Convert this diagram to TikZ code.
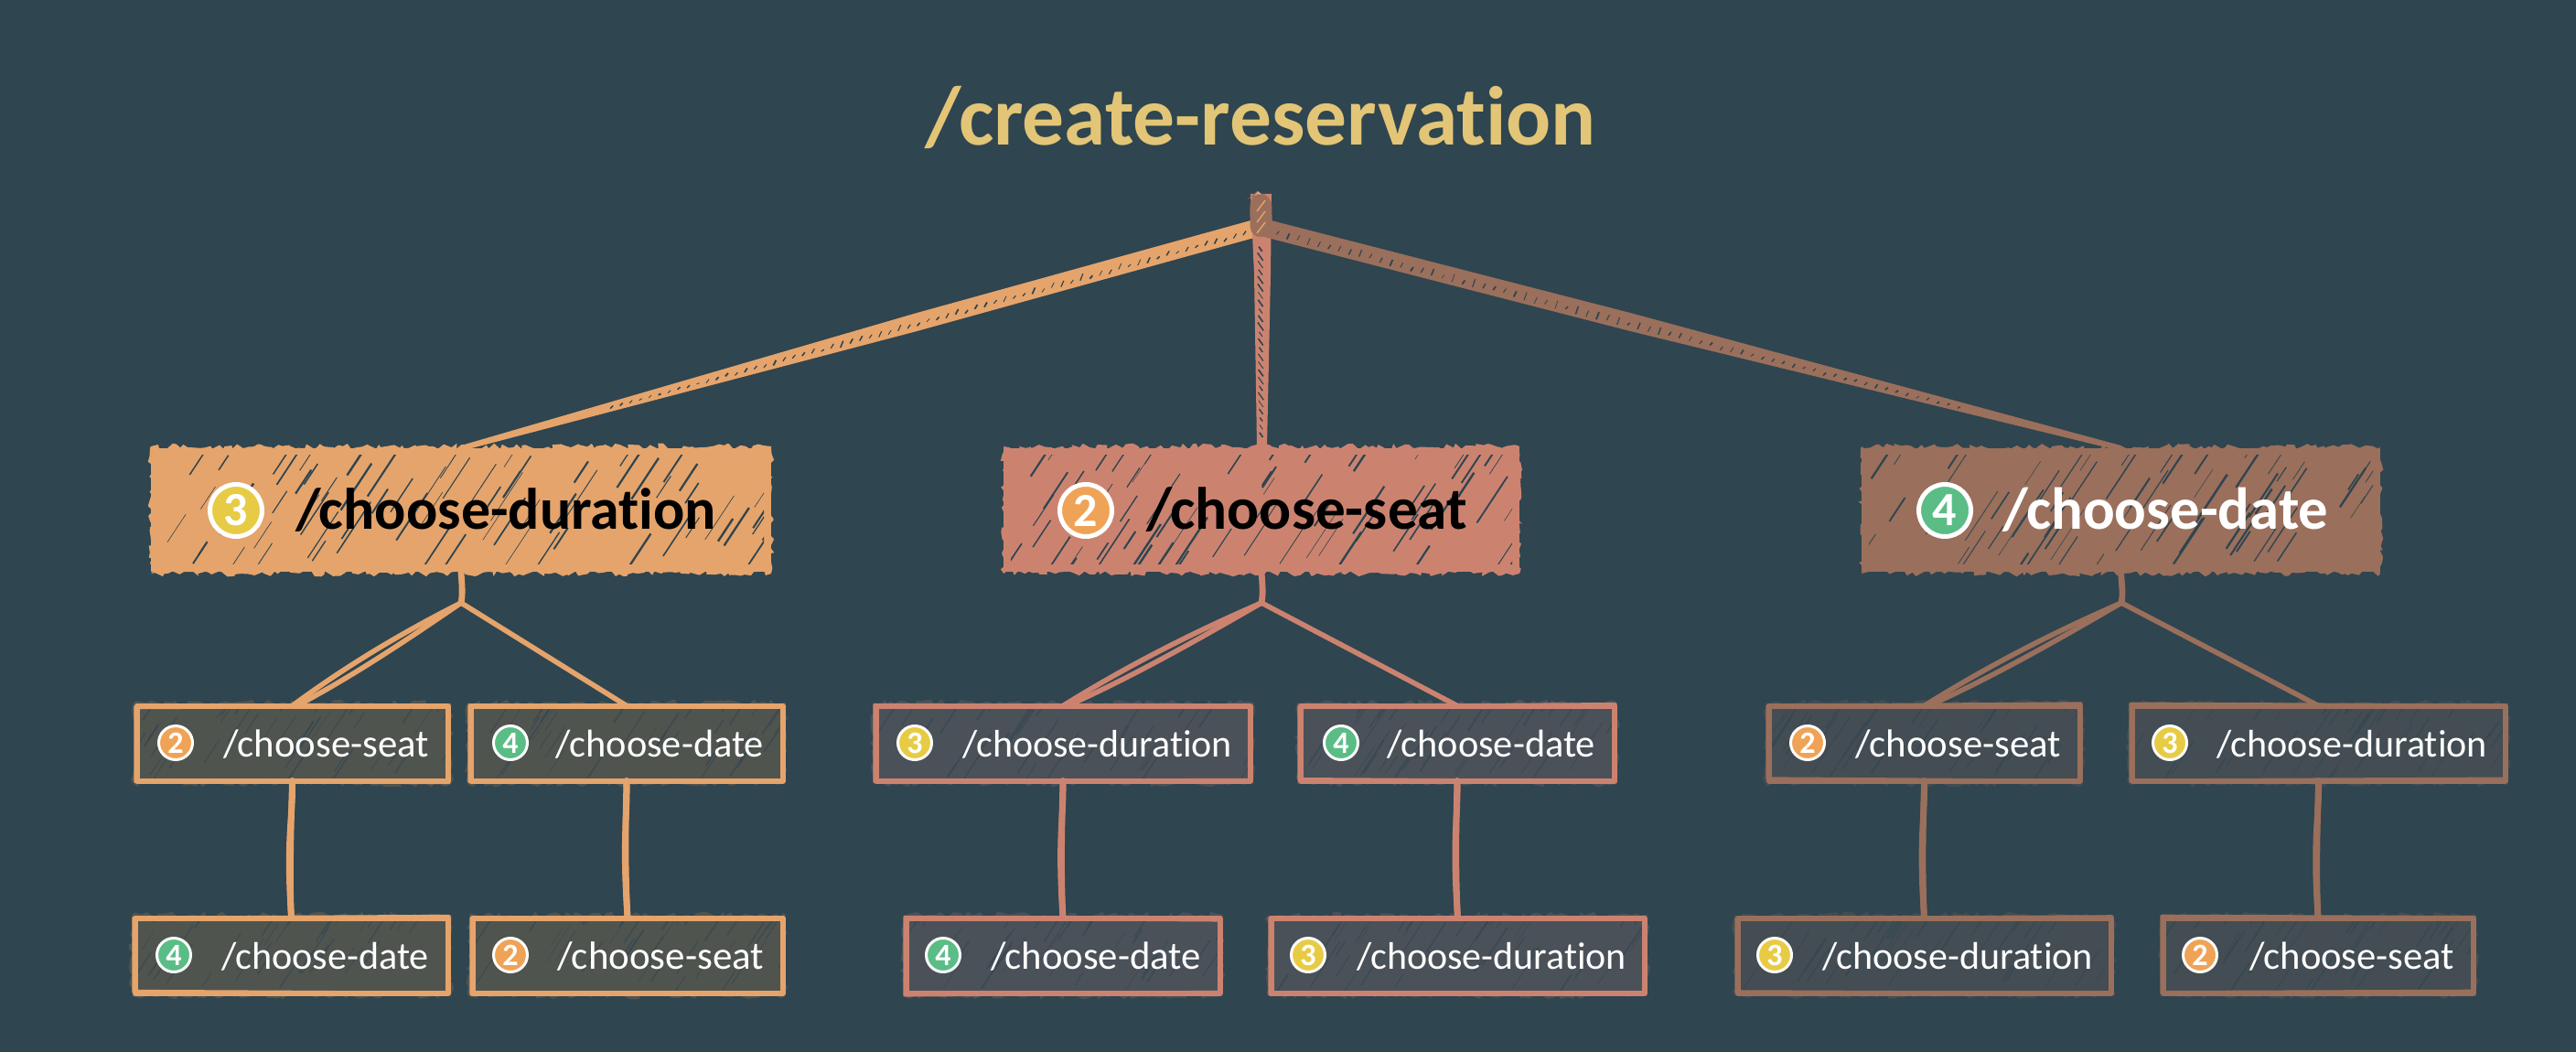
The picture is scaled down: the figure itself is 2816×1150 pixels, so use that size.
\documentclass[tikz,border=0pt]{standalone}
\usepackage{fontspec}
\setmainfont[Ligatures=NoCommon]{Carlito}
\usetikzlibrary{calc,decorations.pathmorphing}
\definecolor{bgc}{HTML}{2F4550}
\definecolor{titlec}{HTML}{E2C576}
\definecolor{oc}{HTML}{E5A46B}
\definecolor{sc}{HTML}{CB8370}
\definecolor{bc}{HTML}{9A6F5B}
\definecolor{of}{HTML}{50544F}
\definecolor{sf}{HTML}{4B5158}
\definecolor{bf}{HTML}{434D53}
\definecolor{b2}{HTML}{EFA356}
\definecolor{b3}{HTML}{E8CB45}
\definecolor{b4}{HTML}{5ABD85}
\tikzset{
  cardnode/.style={rectangle,inner sep=0pt,outer sep=0pt},
  badgebig/.style={circle,draw=white,line width=2.5pt,minimum size=28.5pt,inner sep=0pt,text=white,font=\bfseries\fontsize{26}{26}\selectfont},
  badgesmall/.style={circle,draw=white,line width=1.5pt,minimum size=18.5pt,inner sep=0pt,text=white,font=\bfseries\fontsize{17}{17}\selectfont},
  labeltext/.style={anchor=base west,inner sep=0pt,outer sep=0pt},
  jag/.style={decorate,decoration={random steps,segment length=#1,amplitude=1.7pt}},
  conn/.style={line width=3.4pt,line cap=round},
  thinconn/.style={line width=2.8pt,line cap=round}
}
% name, x1, x2, badge x, text x, text width, number, label
\newcommand{\bigcard}[8]{%
  \pgfmathsetmacro{\cardw}{(#3-#2)*0.5}\pgfmathsetmacro{\cardh}{(\ryb-\rya)*0.5}
  \fill[\ccol,jag=2.4pt] (#2,\rya+1) -- (#3,\rya+1) -- (#3,\ryb-1) -- (#2,\ryb-1) -- cycle;
  \node[cardnode,fill=\ccol,minimum width=\cardw pt,minimum height={\cardh pt-3pt}] (#1) at ({(#2+#3)/2},{(\rya+\ryb)/2}) {};
  \begin{scope}
    \clip (#2+8,\rya+10) rectangle (#3-8,\ryb-12);
    \foreach \i in {1,...,72}{
      \pgfmathsetmacro{\hx}{#2+rnd*(#3-#2)}
      \pgfmathsetmacro{\hy}{\rya+rnd*(\ryb-\rya)}
      \pgfmathsetmacro{\hl}{14+rnd*42}
      \pgfmathsetmacro{\hw}{0.25+rnd*1.0}
      \draw[bgc,line width=\hw pt] (\hx,\hy) -- ++(\hl*0.66,-\hl);
    }
  \end{scope}
  \node[badgebig,fill=b#7] (#1-badge) at (#4,\ryc) {#7};
  \node[labeltext,text=\tcol] (#1-label) at (#5,\ryd) {\resizebox{\dimexpr#6pt/2\relax}{!}{\bfseries #8}};
}
\newcommand{\smallcard}[8]{%
  \pgfmathsetmacro{\cardw}{(#3-#2)*0.5-2.5}\pgfmathsetmacro{\cardh}{(\ryb-\rya)*0.5-2.5}
  \fill[\fcol,jag=2.6pt] (#2-1,\rya-1) -- (#3+1,\rya-1) -- (#3+1,\ryb+1) -- (#2-1,\ryb+1) -- cycle;
  \fill[\fcol] (#2,\rya) rectangle (#3,\ryb);
  \begin{scope}
    \clip (#2,\rya) rectangle (#3,\ryb);
    \foreach \i in {1,...,42}{
      \pgfmathsetmacro{\hx}{#2+rnd*(#3-#2)}
      \pgfmathsetmacro{\hy}{\rya+rnd*(\ryb-\rya)}
      \pgfmathsetmacro{\hl}{14+rnd*30}
      \pgfmathsetmacro{\hw}{0.25+rnd*0.7}
      \draw[bgc,opacity=.6,line width=\hw pt] (\hx,\hy) -- ++(\hl*0.66,-\hl);
    }
  \end{scope}
  \node[cardnode,draw=\ccol,line width=3pt,line join=round,minimum width=\cardw pt,minimum height=\cardh pt] (#1) at ({(#2+#3)/2},{(\rya+\ryb)/2}) {};
  \pgfmathsetmacro{\oa}{rnd*4-2}\pgfmathsetmacro{\ob}{rnd*4-2}
  \draw[\ccol,line width=2.2pt,line join=round] ($(#1.north west)+(-1,\oa)$) -- ($(#1.north east)+(1,\ob)$) -- ($(#1.south east)+(1,\oa)$) -- ($(#1.south west)+(-1,\ob)$) -- cycle;
  \node[badgesmall,fill=b#7] (#1-badge) at (#4,\ryc) {#7};
  \node[labeltext,text=white] (#1-label) at (#5,\ryd) {\resizebox{\dimexpr#6pt/2\relax}{!}{#8}};
}
% wide sketched band from apex to a card: target, colour
\newcommand{\band}[2]{%
  \fill[#2] ($(apex)+(0,-10)$) -- ($(apex)!.43!(#1.north)+(0,-10)$) -- ($(#1.north)+(0,-3)$) -- ($(#1.north)+(0,3)$) -- ($(apex)!.43!(#1.north)+(0,10)$) -- ($(apex)+(0,10)$) -- cycle;
  \draw[#2,line width=1pt] (apex) -- (#1.north);
  \foreach \t in {0.02,0.032,...,0.82}{
    \pgfmathsetmacro{\ff}{\t<0.43?1:(1-\t)/0.57}
    \pgfmathsetmacro{\ua}{\ff*(3+rnd*3.5)}
    \pgfmathsetmacro{\ub}{\ff*(rnd*5-3)}
    \pgfmathsetmacro{\uw}{0.35+rnd*0.6}
    \draw[bgc,line width=\uw pt] ($(apex)!\t!(#1.north)+(-1.5,\ua)$) -- ($(apex)!\t!(#1.north)+(1.5,\ub)$);
  }
}
% parent, junction, left child, right child, colour
\newcommand{\branch}[5]{%
  \draw[conn,#5] (#1.south) .. controls ($(#1.south)+(1,15)$) and ($(#2)+(2,-10)$) .. (#2);
  \draw[thinconn,#5] (#2) .. controls ($(#2)!.4!(#3.north)+(-3,-6)$) and ($(#2)!.7!(#3.north)+(-4,-4)$) .. (#3.north);
  \draw[thinconn,#5] (#2) .. controls ($(#2)!.4!(#3.north)+(4,3)$) and ($(#2)!.7!(#3.north)+(4,5)$) .. ($(#3.north)+(5,0)$);
  \draw[thinconn,#5] (#2) -- (#4.north);
}
\newcommand{\vlink}[3]{%
  \draw[conn,#3] (#1.south) .. controls ($(#1.south)+(1,40)$) and ($(#2.north)+(-6,-90)$) .. (#2.north);
  \draw[conn,#3] (#1.south) .. controls ($(#1.south)+(-2,70)$) and ($(#2.north)+(-2,-40)$) .. (#2.north);
}
\begin{document}
\begin{tikzpicture}[x=0.5pt,y=-0.5pt]
\pgfmathsetseed{4217}
\fill[bgc] (0,0) rectangle (2816,1150);
\useasboundingbox (0,0) rectangle (2816,1150);
\node[labeltext,text=titlec] (title) at (1011,159) {\resizebox{367pt}{!}{\bfseries /create-reservation}};
\coordinate (apex) at (1378,248);

% level 1
\def\rya{487}\def\ryb{628}\def\ryc{558}\def\ryd{578}
\def\ccol{oc}\def\tcol{black}
\bigcard{dur}{165}{843}{258}{323}{460}{3}{/choose-duration}
\def\ccol{sc}
\bigcard{seat}{1097}{1661}{1187}{1253}{351}{2}{/choose-seat}
\def\ccol{bc}\def\tcol{white}
\bigcard{date}{2035}{2602}{2126}{2189}{356}{4}{/choose-date}

% level 2
\def\rya{769}\def\ryb{856}\def\ryc{812}\def\ryd{827}
\def\ccol{oc}\def\fcol{of}
\smallcard{a}{147}{492}{192}{244}{225}{2}{/choose-seat}
\smallcard{b}{512}{858}{558}{607}{228}{4}{/choose-date}
\def\ccol{sc}\def\fcol{sf}
\smallcard{c}{955}{1369}{1000}{1052}{295}{3}{/choose-duration}
\smallcard{d}{1419}{1767}{1466}{1516}{228}{4}{/choose-date}
\def\ccol{bc}\def\fcol{bf}
\smallcard{e}{1931}{2276}{1976}{2028}{225}{2}{/choose-seat}
\smallcard{f}{2328}{2741}{2372}{2423}{296}{3}{/choose-duration}

% level 3
\def\rya{1001}\def\ryb{1088}\def\ryc{1044}\def\ryd{1059}
\def\ccol{oc}\def\fcol{of}
\smallcard{g}{145}{492}{190}{242}{227}{4}{/choose-date}
\smallcard{h}{514}{858}{558}{609}{226}{2}{/choose-seat}
\def\ccol{sc}\def\fcol{sf}
\smallcard{i}{988}{1336}{1031}{1083}{230}{4}{/choose-date}
\smallcard{j}{1387}{1800}{1430}{1483}{295}{3}{/choose-duration}
\def\ccol{bc}\def\fcol{bf}
\smallcard{k}{1897}{2310}{1940}{1992}{296}{3}{/choose-duration}
\smallcard{l}{2362}{2706}{2405}{2459}{224}{2}{/choose-seat}

% top connectors
\band{dur}{oc}
\fill[sc] (1367,212) -- (1390,212) -- (1389,300) -- (1385,488) -- (1374,488) -- (1371,300) -- cycle;
\draw[sc,line width=3pt] (apex) -- (seat.north);
\foreach \t in {0.1,0.135,...,0.95}{
  \pgfmathsetmacro{\uw}{0.4+rnd*0.5}
  \pgfmathsetmacro{\ua}{2+rnd*2.5}
  \draw[bgc,line width=\uw pt] ($(apex)!\t!(seat.north)+(-\ua*0.8,-\ua)$) -- ($(apex)!\t!(seat.north)+(\ua*0.6,\ua)$);
}
\band{date}{bc}
\fill[oc] (1372,212) -- (1375,209) -- (1379,212) -- cycle;
\fill[bc,rounded corners=6pt] (1366,216) -- (1372,211) -- (1390,213) -- (1391,258) -- (1367,260) -- cycle;
\foreach \yy in {224,236,248}{
  \draw[oc,line width=.7pt] (1374,\yy+7) -- (1383,\yy-5);
}

% junctions
\coordinate (j1) at (504,659);
\coordinate (j2) at (1379,659);
\coordinate (j3) at (2319,659);
\branch{dur}{j1}{a}{b}{oc}
\branch{seat}{j2}{c}{d}{sc}
\branch{date}{j3}{e}{f}{bc}

\vlink{a}{g}{oc}
\vlink{b}{h}{oc}
\vlink{c}{i}{sc}
\vlink{d}{j}{sc}
\vlink{e}{k}{bc}
\vlink{f}{l}{bc}
\end{tikzpicture}
\end{document}
